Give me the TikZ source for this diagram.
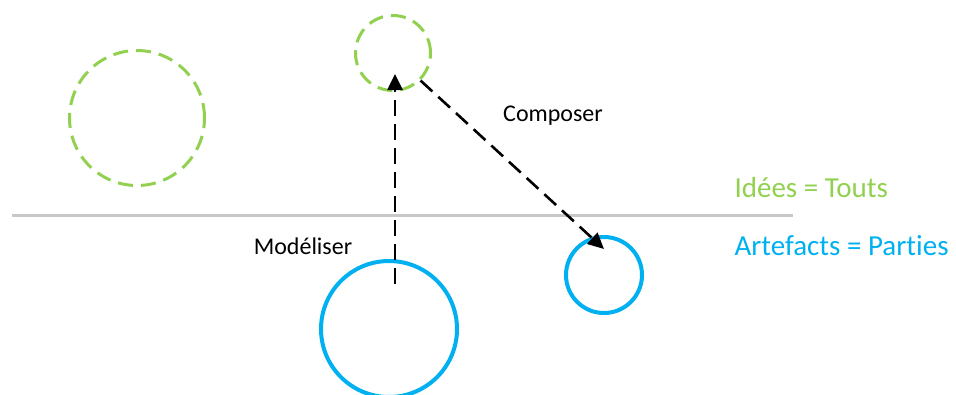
\documentclass[tikz,border=0pt]{standalone}
\usepackage{fontspec}
\setmainfont[Ligatures=NoCommon]{Carlito}
\usetikzlibrary{arrows.meta}
\definecolor{idgreen}{HTML}{92D050}
\definecolor{artblue}{HTML}{00B0F0}
\definecolor{sepgray}{HTML}{C8C8C8}
\begin{document}
\begin{tikzpicture}[x=1pt,y=-1pt,
  idea/.style={circle,draw=idgreen,line width=3pt,dash pattern=on 15pt off 8pt,inner sep=0pt},
  artefact/.style={circle,draw=artblue,line width=4pt,inner sep=0pt},
  flow/.style={draw=black,line width=2.6pt,dash pattern=on 16pt off 8pt,-{Triangle[length=16pt,width=15pt]}},
  lbl/.style={font=\fontsize{24}{28}\selectfont,text=black},
  legend/.style={font=\fontsize{29}{34}\selectfont,anchor=west}]
\useasboundingbox (0,0) rectangle (956,394);
\clip (0,0) rectangle (956,394);
\draw[sepgray,line width=3.5pt] (12,215.5) -- (793,215.5);
\node[idea,minimum size=135pt] (i1) at (137,118) {};
\node[idea,minimum size=75pt] (i2) at (393,53) {};
\node[artefact,minimum size=136pt] (a1) at (389,329) {};
\node[artefact,minimum size=76pt] (a2) at (604,275) {};
\coordinate (mstart) at (395,284);
\coordinate (mend) at (395,74);
\coordinate (cend) at (604,249);
\draw[flow] (mstart) -- (mend);
\draw[flow] (i2.-45) -- (cend);
\node[lbl] (comp) at (553,116) {Composer};
\node[lbl] (mod) at (303,246) {Modéliser};
\node[legend,text=idgreen] (lid) at (731,188) {Idées = Touts};
\node[legend,text=artblue] (lart) at (731,246) {Artefacts = Parties};
\end{tikzpicture}
\end{document}
